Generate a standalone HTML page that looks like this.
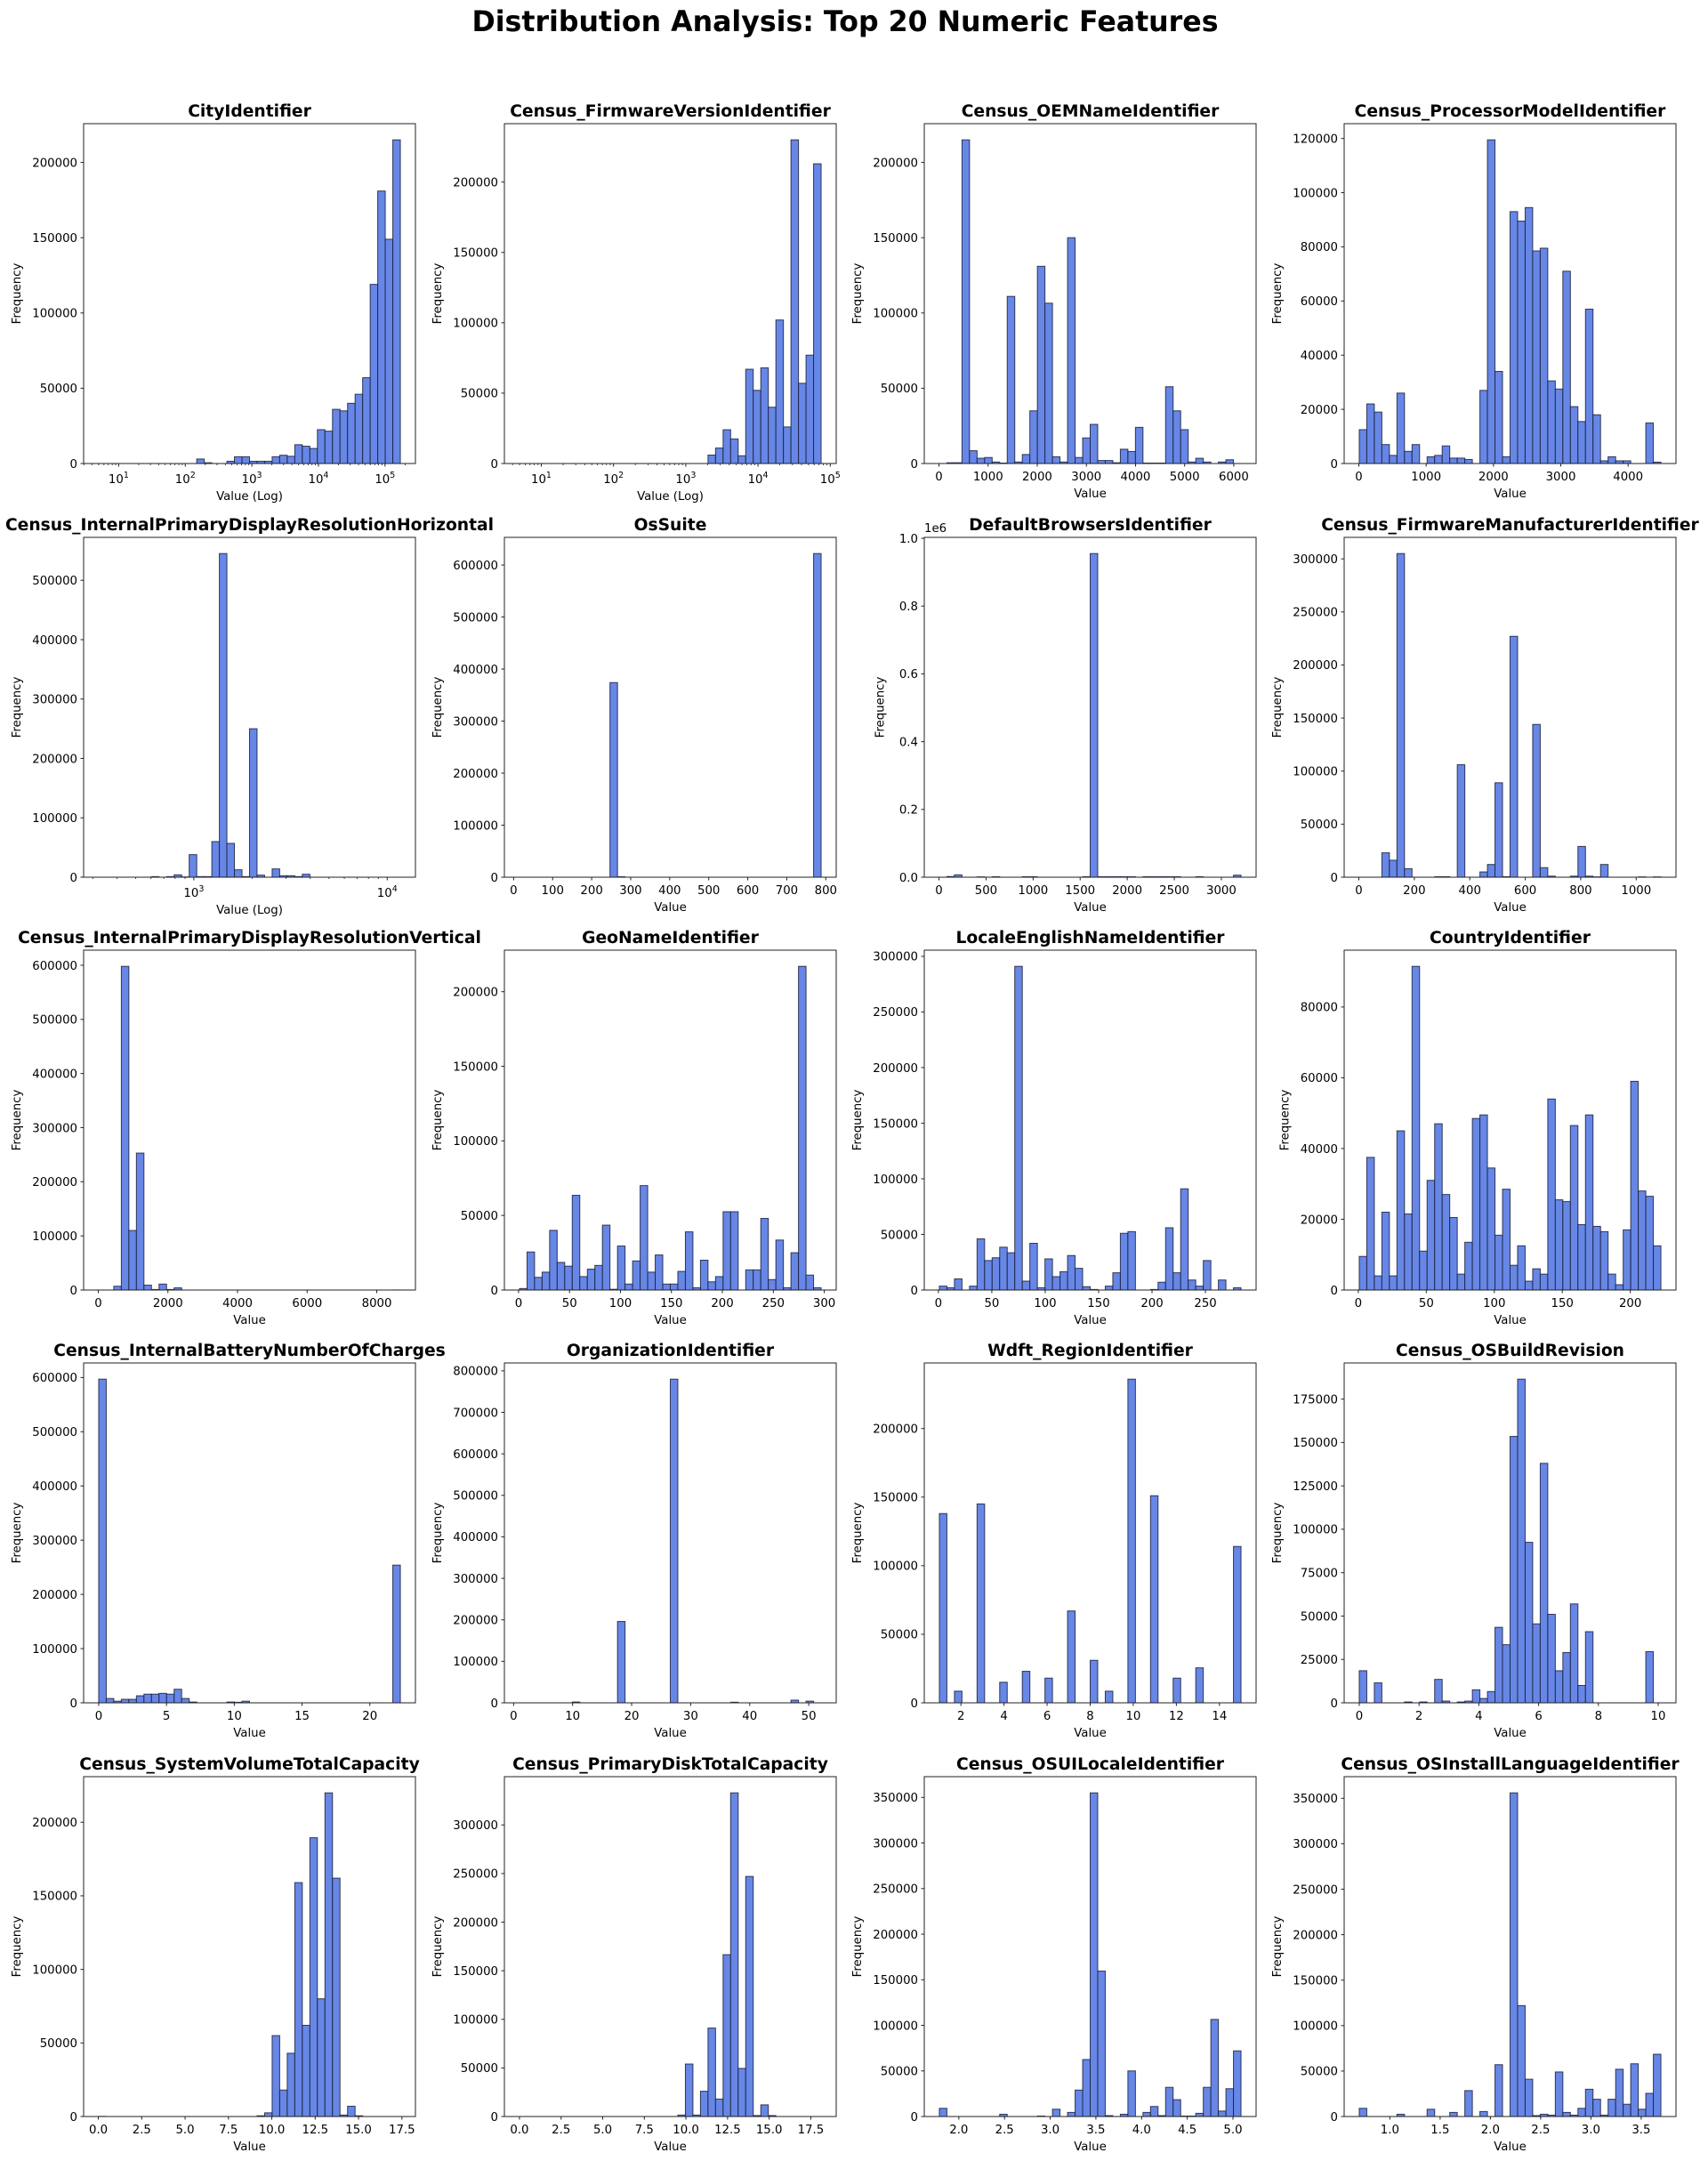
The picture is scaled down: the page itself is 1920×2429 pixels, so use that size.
<!DOCTYPE html>
<html><head><meta charset="utf-8"><title>Distribution Analysis</title>
<style>
html,body{margin:0;padding:0;background:#fff;}
svg{display:block;font-family:"DejaVu Sans","Liberation Sans",sans-serif;}
</style></head>
<body>
<svg id="fig" width="1920" height="2429" viewBox="0 0 1920 2429" xmlns="http://www.w3.org/2000/svg">
<rect width="1920" height="2429" fill="#fff"/>
<text x="950" y="35" text-anchor="middle" font-size="32" font-weight="bold" textLength="839" lengthAdjust="spacingAndGlyphs">Distribution Analysis: Top 20 Numeric Features</text>
</svg>
<script>
const titles = ["CityIdentifier","Census_FirmwareVersionIdentifier","Census_OEMNameIdentifier","Census_ProcessorModelIdentifier","Census_InternalPrimaryDisplayResolutionHorizontal","OsSuite","DefaultBrowsersIdentifier","Census_FirmwareManufacturerIdentifier","Census_InternalPrimaryDisplayResolutionVertical","GeoNameIdentifier","LocaleEnglishNameIdentifier","CountryIdentifier","Census_InternalBatteryNumberOfCharges","OrganizationIdentifier","Wdft_RegionIdentifier","Census_OSBuildRevision","Census_SystemVolumeTotalCapacity","Census_PrimaryDiskTotalCapacity","Census_OSUILocaleIdentifier","Census_OSInstallLanguageIdentifier"];
const logScale = [true,true,false,false,true,false,false,false,false,false,false,false,false,false,false,false,false,false,false,false];
// bin range (log10 exponent for log charts)
const binLo = [0.7,0.698,8,6,2.508,15,4,1.4,12,0.9,0.9,0.7,0,1,1,0,0.02,0,1.787,0.6955];
const binHi = [5.23,4.874,6147,4487,4.068,788,3209,1089,8677,296.9,283.3,222.5,22.25,52.1,15,10.09,17.41,18.12,5.088,3.696];
const yStep = [50000,50000,50000,20000,100000,100000,200000,50000,100000,50000,50000,20000,100000,100000,50000,25000,50000,50000,50000,50000];
const xTicks = [[1,2,3,4,5],[1,2,3,4,5],[0,1000,2000,3000,4000,5000,6000],[0,1000,2000,3000,4000],[3,4],[0,100,200,300,400,500,600,700,800],[0,500,1000,1500,2000,2500,3000],[0,200,400,600,800,1000],[0,2000,4000,6000,8000],[0,50,100,150,200,250,300],[0,50,100,150,200,250],[0,50,100,150,200],[0,5,10,15,20],[0,10,20,30,40,50],[2,4,6,8,10,12,14],[0,2,4,6,8,10],[0,2.5,5,7.5,10,12.5,15,17.5],[0,2.5,5,7.5,10,12.5,15,17.5],[2,2.5,3,3.5,4,4.5,5],[1,1.5,2,2.5,3,3.5]];
const xDecimals = [0,0,0,0,0,0,0,0,0,0,0,0,0,0,0,0,1,1,1,1];

const counts01 = [0,0,0,0,0,0,0,0,0,0,0,0,0,3000,500,0,0,1500,4500,4500,1500,1500,1500,4500,5500,4800,12500,11500,10000,22500,21500,36000,35000,40000,46000,57000,119000,181000,149000,215000];
const counts02 = [0,0,0,0,0,0,0,0,0,0,0,0,0,0,0,0,0,0,0,0,0,0,0,0,0,6000,11000,24000,17500,5500,67000,52000,68000,40000,102000,26000,230000,57000,77000,213000];
const counts03 = [0,500,500,215000,8500,3500,4000,1000,300,111000,1000,6000,35000,131000,106500,4500,1000,150000,4000,17000,26000,2000,2000,500,9500,8000,24000,300,300,300,51000,35000,22500,1000,3500,1000,0,1000,2500,0];
const counts04 = [12500,22000,19000,7000,3000,26000,4500,7000,0,2500,3000,6500,2000,2000,1500,0,27000,119500,34000,2500,93000,89500,94500,78500,79500,30500,27500,71000,21000,15500,57000,18000,1000,2500,1000,1000,0,0,15000,500];
const counts05 = [0,0,0,0,0,0,0,1000,0,1000,4000,500,38000,1000,1000,60000,545000,57000,12500,1000,250000,3500,0,14000,2500,2500,1000,5000,0,0,0,0,0,0,0,0,0,0,0,0];
const counts06 = [0,0,0,0,0,0,0,0,0,0,0,0,374000,1000,0,0,0,0,0,0,0,0,0,0,0,0,0,0,0,0,0,0,0,0,0,0,0,0,0,622000];
const counts07 = [0,2000,7000,0,0,1000,0,1500,0,0,0,1500,1500,0,0,0,0,0,0,1500,955000,1500,1500,1500,1500,1500,0,1500,1500,1500,1500,1500,0,0,1500,0,0,0,0,6000];
const counts08 = [0,0,0,23000,16000,305000,8000,0,0,0,500,500,0,106000,0,0,5000,12000,89000,500,227000,0,0,144000,9000,1000,0,0,1000,29000,1000,300,12000,0,0,0,0,300,0,300];
const counts09 = [0,0,7000,598000,110000,253000,9000,1000,11000,1000,4000,0,0,0,0,0,0,0,0,0,0,0,0,0,0,0,0,0,0,0,0,0,0,0,0,0,0,0,0,100];
const counts10 = [1000,25500,8500,12000,40000,18500,16000,63500,9000,14000,16500,43500,500,29500,4000,19500,70000,12000,23500,4000,4000,12500,39000,1500,20000,5500,9000,52500,52500,0,13500,13500,48000,7000,33500,1500,25000,217000,10000,1500];
const counts11 = [3500,2000,10000,0,3500,46000,26500,29000,38500,33500,291000,8000,42000,2000,28000,12000,16500,31000,19500,3000,500,0,3500,15500,51000,52500,0,0,500,7000,56000,15500,91000,9000,3500,26500,0,9000,0,2000];
const counts12 = [9500,37500,4000,22000,4000,45000,21500,91500,11000,31000,47000,27000,20500,4500,13500,48500,49500,34500,15500,28500,7000,12500,2500,6000,4500,54000,25500,25000,46500,18500,49500,18000,16500,4500,1500,17000,59000,28000,26500,12500];
const counts13 = [597000,8000,3000,6500,6500,13000,16000,16000,17500,16000,25000,8000,1500,0,0,0,0,1500,1000,3000,0,0,0,0,0,0,0,0,0,0,0,0,0,0,0,0,0,0,0,254000];
const counts14 = [0,0,0,0,0,0,0,2000,0,0,0,0,0,196000,0,0,0,0,0,0,780000,0,0,0,0,0,0,0,1500,0,0,0,0,0,0,0,6500,0,4000,0];
const counts15 = [138000,0,8500,0,0,145000,0,0,15000,0,0,23000,0,0,18000,0,0,67000,0,0,31000,0,8500,0,0,236000,0,0,151000,0,0,18000,0,0,25500,0,0,0,0,114000];
const counts16 = [18500,0,11500,0,0,0,500,0,500,0,13500,1000,0,500,1000,7500,2500,6500,43500,33500,153500,186500,92500,45500,138000,51000,18500,29000,57000,10000,41000,0,0,0,0,0,0,0,29500,0];
const counts17 = [100,0,0,0,0,0,0,0,0,0,0,0,0,0,0,0,0,0,0,0,0,500,2500,55000,18000,43000,159000,62000,189500,80000,220000,162000,1000,7000,500,0,0,0,0,0];
const counts18 = [0,0,0,0,0,0,0,0,0,0,0,0,0,0,0,0,0,0,0,0,0,1500,54000,1500,26000,91000,18000,166500,333000,49500,247000,1000,12000,1000,0,0,0,0,0,0];
const counts19 = [9000,0,0,0,0,0,0,0,2500,0,0,0,0,500,0,8000,0,4500,29000,62500,355000,159500,1000,0,2500,50000,0,4500,11000,1000,32000,18500,500,500,3500,32000,106500,6000,30500,72000];
const counts20 = [9000,0,0,0,0,2500,0,0,0,8000,0,0,4500,0,28500,0,5500,0,57000,0,356000,122000,41000,1000,2500,1500,49000,4500,1500,9000,30000,19000,1500,19000,52000,13500,58000,8000,25500,68500];
const allCounts = [counts01,counts02,counts03,counts04,counts05,counts06,counts07,counts08,counts09,counts10,counts11,counts12,counts13,counts14,counts15,counts16,counts17,counts18,counts19,counts20];

const NS = "http://www.w3.org/2000/svg";
const svg = document.getElementById('fig');
const colLeft = [94,567,1039,1511], rowTop = [139,604,1068,1532,1997], AW = 373, AH = 382;

function mk(tag, attrs, parent){
  const e = document.createElementNS(NS, tag);
  for (const k in attrs) e.setAttribute(k, attrs[k]);
  parent.appendChild(e);
  return e;
}

for (let i = 0; i < 20; i++) {
  const L = colLeft[i % 4], T = rowTop[Math.floor(i / 4)], B = T + AH, R = L + AW;
  const counts = allCounts[i], n = counts.length, lo = binLo[i], hi = binHi[i];
  const span = hi - lo, dlo = lo - 0.05 * span, dhi = hi + 0.05 * span;
  const xs = v => L + (v - dlo) / (dhi - dlo) * AW;
  const ymax = 1.05 * Math.max(...counts);
  const ys = v => B - v / ymax * AH;

  const g = mk('g', {}, svg);
  
  

  const t = mk('text', {x: (L + R) / 2, y: T - 8, 'text-anchor': 'middle', 'font-size': 18.7, 'font-weight': 'bold'}, g);
  
  
  t.textContent = titles[i];

  // bars
  const bw = span / n;
  for (let k = 0; k < n; k++) {
    const x0 = xs(lo + k * bw), x1 = xs(lo + (k + 1) * bw);
    const y = ys(counts[k]);
    const r = mk('rect', {x: x0, y: y, width: x1 - x0, height: B - y, fill: '#6787e6', stroke: '#1b1f3b', 'stroke-width': 1, 'stroke-opacity': 0.85}, g);
    
    
  }

  // axes frame
  const f = mk('rect', {x: L, y: T, width: AW, height: AH, fill: 'none', stroke: '#222', 'stroke-width': 1}, g);
  
  

  // y ticks
  let maxLen = 0;
  for (let v = 0; v <= ymax + 1e-6; v += yStep[i]) {
    const y = ys(v);
    mk('line', {x1: L - 3.5, x2: L, y1: y, y2: y, stroke: '#222', 'stroke-width': 1}, g);
    const lab = (i === 6) ? (v / 1e6).toFixed(1) : String(Math.round(v));
    maxLen = Math.max(maxLen, lab.length);
    const tl = mk('text', {x: L - 7, y: y + 4.8, 'text-anchor': 'end', 'font-size': 13.3}, g);
    
    
    tl.textContent = lab;
  }
  if (i === 6) {
    const off = mk('text', {x: L, y: T - 6, 'font-size': 13.3}, g);
    
    
    off.textContent = '1e6';
  }
  const yl = mk('text', {x: 0, y: 0, 'text-anchor': 'middle', 'font-size': 13.3, transform: 'translate(' + (L - (maxLen * 8.5 + 20)) + ',' + (T + AH / 2) + ') rotate(-90)'}, g);
  
  
  yl.textContent = 'Frequency';

  // x ticks
  if (logScale[i]) {
    for (let d = Math.floor(dlo); d <= Math.ceil(dhi); d++) {
      for (let m = 2; m < 10; m++) {
        const lv = d + Math.log10(m);
        if (lv < dlo || lv > dhi) continue;
        mk('line', {x1: xs(lv), x2: xs(lv), y1: B, y2: B + 2, stroke: '#222', 'stroke-width': 0.8}, g);
      }
    }
  }
  xTicks[i].forEach(v => {
    const x = xs(v);
    mk('line', {x1: x, x2: x, y1: B, y2: B + 3.5, stroke: '#222', 'stroke-width': 1}, g);
    const tl = mk('text', {x: x, y: logScale[i] ? B + 22 : B + 19, 'text-anchor': 'middle', 'font-size': 13.3}, g);
    
    
    if (logScale[i]) {
      tl.textContent = '10';
      const sup = mk('tspan', {dy: -6, 'font-size': 9.5}, tl);
      sup.textContent = String(v);
    } else {
      tl.textContent = v.toFixed(xDecimals[i]);
    }
  });
  const xl = mk('text', {x: (L + R) / 2, y: logScale[i] ? B + 41 : B + 38, 'text-anchor': 'middle', 'font-size': 13.3}, g);
  
  
  xl.textContent = logScale[i] ? 'Value (Log)' : 'Value';
}
</script>
</body></html>
